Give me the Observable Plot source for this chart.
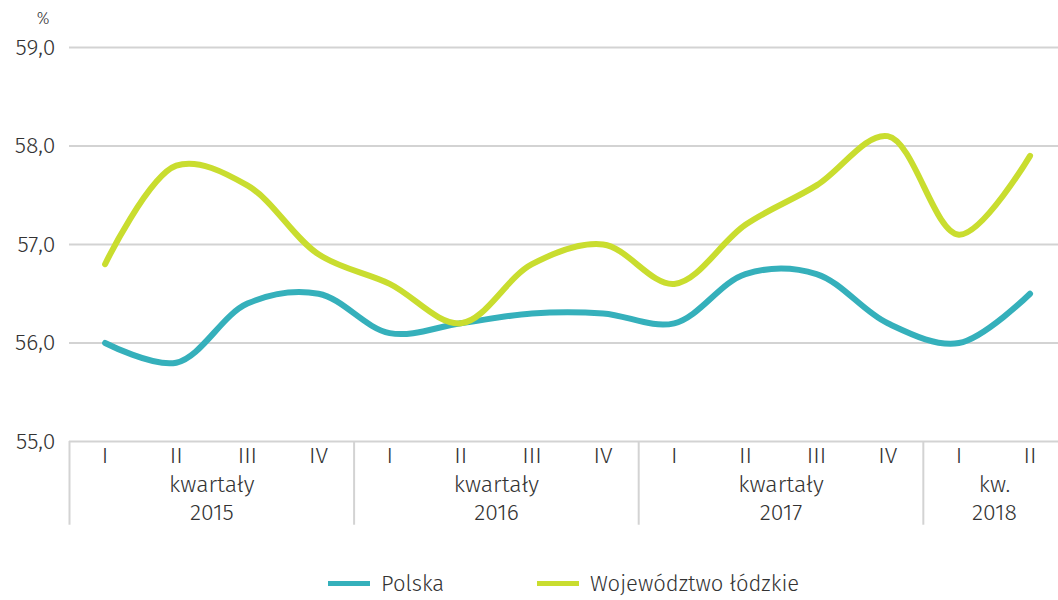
<!DOCTYPE html>
<html>
<head>
<meta charset="utf-8">
<script src="https://cdn.jsdelivr.net/npm/d3@7"></script>
<script src="https://cdn.jsdelivr.net/npm/@observablehq/plot@0.6"></script>
<style>
  body { margin: 0; background: #fff; font-family: "Fira Sans", Roboto, "Open Sans", sans-serif; }
  #wrap { position: relative; width: 1058px; height: 600px; }
  #legend { position: absolute; left: 0; top: 560px; width: 1058px; height: 40px; }
  .item { position: absolute; top: 10px; display: flex; align-items: center; font-size: 22px; color: #333; font-weight: 300; }
  .swatch { width: 42px; height: 5px; margin-right: 11px; }
</style>
</head>
<body>
<div id="wrap">
  <div id="chart"></div>
  <div id="legend"></div>
</div>
<script>
const quarters = ["I","II","III","IV","I","II","III","IV","I","II","III","IV","I","II"];
const polska = [56.0, 55.8, 56.4, 56.5, 56.1, 56.2, 56.3, 56.3, 56.2, 56.7, 56.7, 56.2, 56.0, 56.5];
const lodzkie = [56.8, 57.8, 57.6, 56.9, 56.6, 56.2, 56.8, 57.0, 56.6, 57.2, 57.6, 58.1, 57.1, 57.9];
const groupNames = ["kwartały","kwartały","kwartały","kw."];
const years = ["2015","2016","2017","2018"];
const groupStart = [0, 4, 8, 12];
const groupEnd = [3, 7, 11, 13];
const yTicks = [55, 56, 57, 58, 59];
const seriesNames = ["Polska", "Województwo łódzkie"];
const colors = ["#35b0bb", "#c9dd2f"];

const rows = [];
quarters.forEach((q, i) => {
  rows.push({series: seriesNames[0], i, v: polska[i]});
  rows.push({series: seriesNames[1], i, v: lodzkie[i]});
});
const groups = years.map((y, k) => ({
  name: groupNames[k], year: y,
  center: (groupStart[k] + groupEnd[k]) / 2,
  sep: groupStart[k] - 0.5
}));
const qrows = quarters.map((q, i) => ({q, i}));

const fmt = d => d.toFixed(1).replace(".", ",");

const plot = Plot.plot({
  width: 1058,
  height: 560,
  marginLeft: 69,
  marginRight: 0,
  marginTop: 47,
  marginBottom: 119,
  style: {fontFamily: '"Fira Sans", Roboto, "Open Sans", sans-serif', fontSize: "22px", color: "#333", background: "#fff", fontWeight: 300},
  x: {type: "linear", domain: [-0.5, 13.4], axis: null},
  y: {domain: [55, 59], axis: null},
  color: {domain: seriesNames, range: colors},
  marks: [
    Plot.ruleY(yTicks, {stroke: "#d3d3d3", strokeWidth: 2}),
    Plot.text(yTicks, {x: -0.5, y: d => d, text: fmt, textAnchor: "end", dx: -14, fontSize: 23, fontWeight: 300, fill: "#333"}),
    Plot.text(["%"], {x: -0.5, y: 59, text: d => d, textAnchor: "end", dx: -20, dy: -29, fontSize: 16, fontWeight: 300, fill: "#333"}),
    Plot.ruleX(groups, {x: "sep", y1: 55, y2: 54.15, stroke: "#d3d3d3", strokeWidth: 2, clip: false}),
    Plot.text(qrows, {x: "i", text: "q", frameAnchor: "bottom", dy: 21, fontSize: 23, fontWeight: 300, fill: "#333"}),
    Plot.text(groups, {x: "center", text: "name", frameAnchor: "bottom", dy: 50, fontSize: 23, fontWeight: 300, fill: "#333"}),
    Plot.text(groups, {x: "center", text: "year", frameAnchor: "bottom", dy: 78, fontSize: 23, fontWeight: 300, fill: "#333"}),
    Plot.line(rows, {x: "i", y: "v", z: "series", stroke: "series", strokeWidth: 6, curve: "catmull-rom", strokeLinecap: "round"})
  ]
});
document.getElementById("chart").appendChild(plot);

const legend = document.getElementById("legend");
const lefts = [328, 537];
seriesNames.forEach((n, k) => {
  const d = document.createElement("div");
  d.className = "item";
  d.style.left = lefts[k] + "px";
  d.innerHTML = `<span class="swatch" style="background:${colors[k]}"></span><span>${n}</span>`;
  legend.appendChild(d);
});
</script>
</body>
</html>
